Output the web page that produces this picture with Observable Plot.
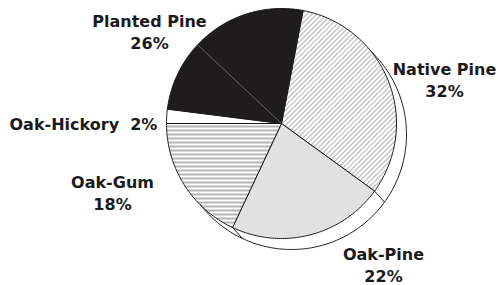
<!DOCTYPE html>
<html><head><meta charset="utf-8">
<script src="https://cdn.jsdelivr.net/npm/d3@7"></script>
<script src="https://cdn.jsdelivr.net/npm/@observablehq/plot@0.6"></script>
<style>body{margin:0;background:#fff}</style>
</head><body><div id="chart"></div>
<script>
// ---- data ----
const categories = ["Native Pine", "Oak-Pine", "Oak-Gum", "Oak-Hickory", "Planted Pine"];
const shares = [32, 22, 18, 2, 26];
const percentLabels = ["32%", "22%", "18%", "2%", "26%"];
const plantedPineSplit = [10, 16]; // visible seam inside the black slice

// ---- layout / style ----
const W = 498, H = 285;
const cx = 281, cy = 123, R = 115, sdx = 10, sdy = 11;
const startDeg = 10.8;
const fills = {
  "Native Pine": "url(#diag)",
  "Oak-Pine": "#e1e1e1",
  "Oak-Gum": "url(#horiz)",
  "Oak-Hickory": "#ffffff",
  "Planted Pine": "#1f1c1d"
};
const labelLayout = {
  "Native Pine":  {x: 444, y: 58.8, anchor: "middle", twoLine: true},
  "Oak-Pine":     {x: 383, y: 244.5, anchor: "middle", twoLine: true},
  "Oak-Gum":      {x: 112, y: 172.5, anchor: "middle", twoLine: true},
  "Oak-Hickory":  {x: 9,   y: 113.6, anchor: "start", twoLine: false},
  "Planted Pine": {x: 149, y: 11.3, anchor: "middle", twoLine: true}
};

const total = d3.sum(shares);
const a0 = startDeg * Math.PI / 180;
const arcs = d3.pie().sort(null).startAngle(a0).endAngle(a0 + 2 * Math.PI)(shares);
const pt = (a, ox = cx, oy = cy, r = R) => [ox + r * Math.sin(a), oy - r * Math.cos(a)];

function slicePoly(s, e, ox, oy) {
  const pts = [[ox, oy]];
  const n = Math.max(2, Math.ceil((e - s) / (Math.PI / 180)));
  for (let i = 0; i <= n; i++) pts.push(pt(s + (e - s) * i / n, ox, oy));
  pts.push([ox, oy]);
  return pts;
}
const circlePts = (ox, oy) => d3.range(0, 361).map(d => pt(d * Math.PI / 180, ox, oy));

const marks = [];
// shadow disc
marks.push(Plot.line(circlePts(cx + sdx, cy + sdy), {x: d => d[0], y: d => d[1], fill: "white", stroke: "#1a1a1a", strokeWidth: 1}));
// extrusion connectors at slice boundaries
const boundaries = arcs.map(a => {
  const p = pt(a.startAngle);
  return {x1: p[0], y1: p[1], x2: p[0] + sdx, y2: p[1] + sdy};
});
marks.push(Plot.link(boundaries, {x1: "x1", y1: "y1", x2: "x2", y2: "y2", stroke: "#1a1a1a", strokeWidth: 1}));
// main slices
arcs.forEach((a, i) => {
  marks.push(Plot.line(slicePoly(a.startAngle, a.endAngle, cx, cy), {
    x: d => d[0], y: d => d[1], fill: fills[categories[i]], stroke: "#1a1a1a", strokeWidth: 1, strokeLinejoin: "round"
  }));
});
// seam in planted pine
const pp = arcs[4];
const seamA = pp.startAngle + plantedPineSplit[0] / total * 2 * Math.PI;
const sp = pt(seamA);
marks.push(Plot.link([{x1: cx, y1: cy, x2: sp[0], y2: sp[1]}], {x1: "x1", y1: "y1", x2: "x2", y2: "y2", stroke: "#8a8a8a", strokeWidth: 0.7}));
// labels
const labels = categories.map((c, i) => {
  const L = labelLayout[c];
  return {x: L.x, y: L.y, anchor: L.anchor, text: L.twoLine ? c + "\n" + percentLabels[i] : c + "\u00a0\u00a0" + percentLabels[i]};
});
for (const anchor of ["middle", "start"]) {
  marks.push(Plot.text(labels.filter(d => d.anchor === anchor), {
    x: "x", y: "y", text: "text", textAnchor: anchor, lineAnchor: "top", lineHeight: 1.36,
    fontSize: 16, fontWeight: "bold", fontFamily: "DejaVu Sans", fill: "#1a1a1a"
  }));
}

const chart = Plot.plot({
  width: W, height: H, margin: 0,
  x: {domain: [0, W], range: [0, W], axis: null},
  y: {domain: [0, H], range: [0, H], axis: null},
  style: {background: "white"},
  marks
});
const svg = d3.select(chart);
const defs = svg.insert("defs", ":first-child");
const diag = defs.append("pattern").attr("id", "diag").attr("patternUnits", "userSpaceOnUse").attr("width", 5).attr("height", 5);
diag.append("rect").attr("width", 5).attr("height", 5).attr("fill", "white");
diag.append("path").attr("d", "M-1,1 L1,-1 M0,5 L5,0 M4,6 L6,4").attr("stroke", "#555").attr("stroke-width", 0.7);
const horiz = defs.append("pattern").attr("id", "horiz").attr("patternUnits", "userSpaceOnUse").attr("width", 10).attr("height", 4);
horiz.append("rect").attr("width", 10).attr("height", 4).attr("fill", "white");
horiz.append("path").attr("d", "M0,2 L10,2").attr("stroke", "#444").attr("stroke-width", 0.8);
document.getElementById("chart").appendChild(chart);
</script>
</body></html>
